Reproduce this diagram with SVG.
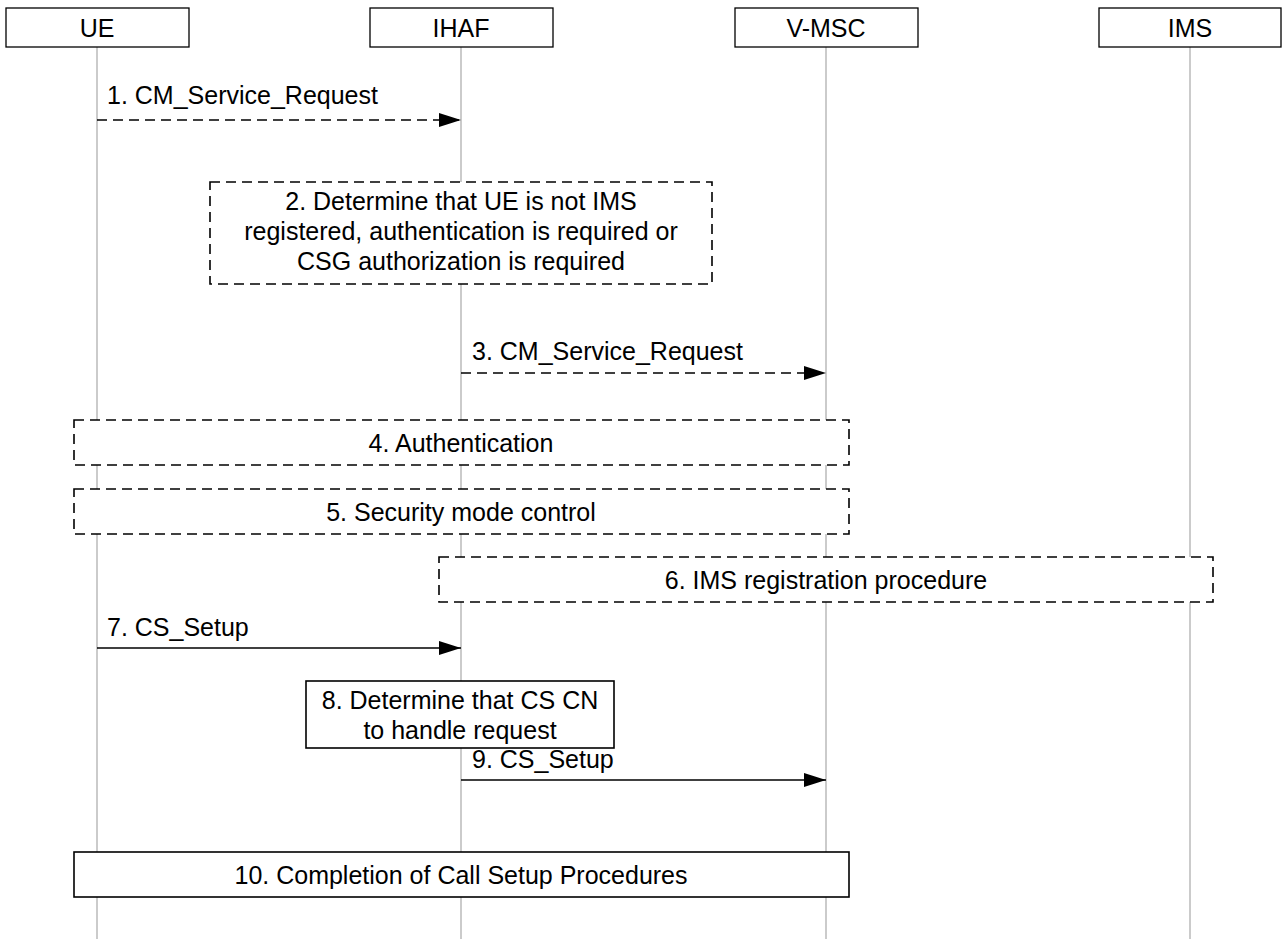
<svg xmlns="http://www.w3.org/2000/svg" width="1282" height="939" viewBox="0 0 1282 939">
<defs>
<style>
text{font-family:"Liberation Sans",Arial,sans-serif;font-size:25px;fill:#000}
.c{text-anchor:middle}
.hdr{fill:#fff;stroke:#000;stroke-width:1.3}
.life{stroke:#a8a8a8;stroke-width:1.2}
.msg{stroke:#000;stroke-width:1.5;fill:none}
.dash{stroke-dasharray:10 6}
.box{fill:#fff;stroke:#000;stroke-width:1.6}
</style>
<marker id="ah" markerWidth="22" markerHeight="14" refX="22" refY="7" orient="auto" markerUnits="userSpaceOnUse">
<path d="M0,0 L22,7 L0,14 Z" fill="#000"/>
</marker>
</defs>
<rect width="1282" height="939" fill="#fff"/>
<g id="lifelines">
<line class="life" x1="97" y1="47" x2="97" y2="939"/>
<line class="life" x1="461" y1="47" x2="461" y2="939"/>
<line class="life" x1="826" y1="47" x2="826" y2="939"/>
<line class="life" x1="1190" y1="47" x2="1190" y2="939"/>
</g>
<g id="ue"><rect class="hdr" x="6" y="8" width="183" height="39"/><text class="c" x="97" y="37">UE</text></g>
<g id="ihaf"><rect class="hdr" x="370" y="8" width="183" height="39"/><text class="c" x="461" y="37">IHAF</text></g>
<g id="vmsc"><rect class="hdr" x="735" y="8" width="183" height="39"/><text class="c" x="826" y="37">V-MSC</text></g>
<g id="ims"><rect class="hdr" x="1099" y="8" width="182" height="39"/><text class="c" x="1190" y="37">IMS</text></g>
<g id="connectors">
<line class="msg dash" x1="97" y1="120" x2="461" y2="120" marker-end="url(#ah)"/>
<line class="msg dash" x1="461" y1="373" x2="826" y2="373" marker-end="url(#ah)"/>
<line class="msg" x1="97" y1="648" x2="461" y2="648" marker-end="url(#ah)"/>
<line class="msg" x1="461" y1="780" x2="826" y2="780" marker-end="url(#ah)"/>
</g>
<g id="labels">
<text x="107" y="104">1. CM_Service_Request</text>
<text x="472" y="360">3. CM_Service_Request</text>
<text x="107" y="636">7. CS_Setup</text>
<text x="472" y="768">9. CS_Setup</text>
</g>
<g id="step2"><rect class="box dash" x="210" y="182" width="502" height="102"/>
<text class="c" x="461" y="210">2. Determine that UE is not IMS</text>
<text class="c" x="461" y="240">registered, authentication is required or</text>
<text class="c" x="461" y="270">CSG authorization is required</text></g>
<g id="step4"><rect class="box dash" x="74" y="420" width="775" height="45"/><text class="c" x="461" y="452">4. Authentication</text></g>
<g id="step5"><rect class="box dash" x="74" y="489" width="775" height="45"/><text class="c" x="461" y="521">5. Security mode control</text></g>
<g id="step6"><rect class="box dash" x="439" y="557" width="774" height="45"/><text class="c" x="826" y="589">6. IMS registration procedure</text></g>
<g id="step8"><rect class="box" x="306" y="681" width="308" height="67"/>
<text class="c" x="460" y="709">8. Determine that CS CN</text>
<text class="c" x="460" y="739">to handle request</text></g>
<g id="step10"><rect class="box" x="74" y="852" width="775" height="45"/><text class="c" x="461" y="884">10. Completion of Call Setup Procedures</text></g>
</svg>
